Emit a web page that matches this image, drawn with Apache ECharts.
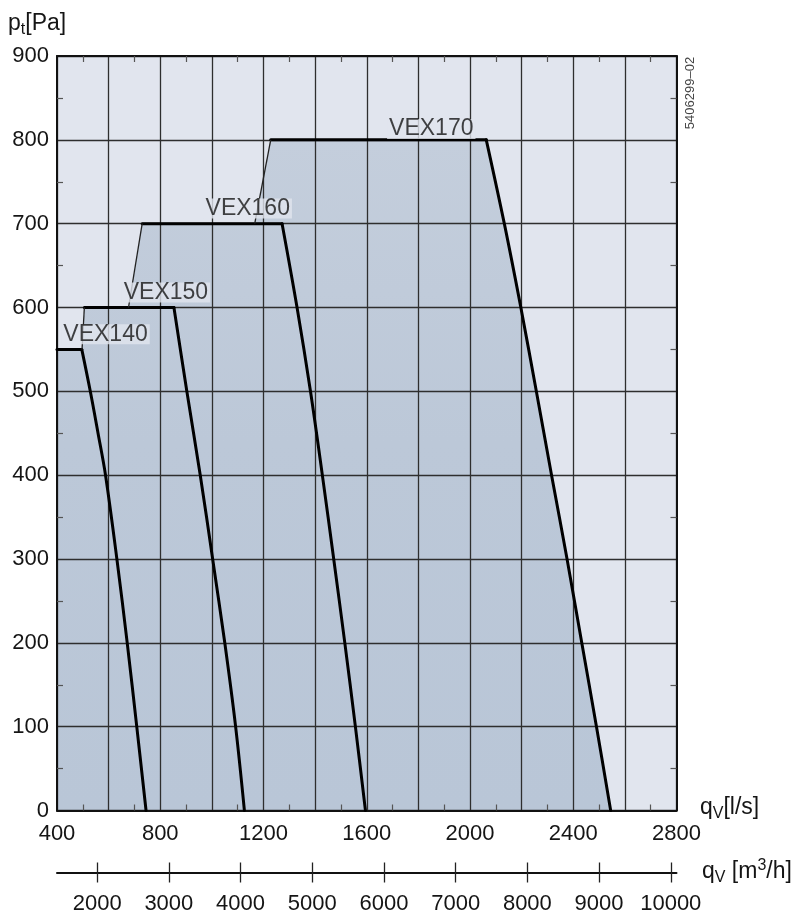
<!DOCTYPE html>
<html>
<head>
<meta charset="utf-8">
<script src="https://cdn.jsdelivr.net/npm/echarts@6/dist/echarts.min.js"></script>
<style>
html,body{margin:0;padding:0;background:#ffffff;}
#chart{width:804px;height:916px;}
</style>
</head>
<body>
<div id="chart"></div>
<script>
// ---- data (flow q in l/s, pressure p in Pa) ----
const flowLabelTicks = [400, 800, 1200, 1600, 2000, 2400, 2800];
const m3hTicks = [2000, 3000, 4000, 5000, 6000, 7000, 8000, 9000, 10000];
const seriesNames = ['VEX140', 'VEX150', 'VEX160', 'VEX170'];

const vex140 = [[400, 550], [496, 550], [529, 500], [559, 450], [588, 400], [632, 300], [672, 200], [709, 100], [745, 0]];
const vex150 = [[506, 600], [853, 600], [903, 500], [955, 400], [1003, 300], [1050, 200], [1092, 100], [1126, 0]];
const vex160 = [[730, 700], [1272, 700], [1330, 600], [1382, 500], [1428, 400], [1472, 300], [1515, 200], [1556, 100], [1595, 0]];
const vex170 = [[1228, 800], [2063, 800], [2133, 700], [2197, 600], [2257, 500], [2316, 400], [2376, 300], [2433, 200], [2490, 100], [2545, 0]];

// thin left-limit lines
const limit150 = [[497, 550], [506, 600]];
const limit160 = [[677, 600], [730, 700]];
const limit170 = [[1166, 700], [1228, 800]];

// label anchor points (q, p)
const labelPoints = [[588, 568], [822, 618], [1139, 718], [1850, 813]];

// envelope of the working area
const envelope = [vex140[0], vex140[1]]
  .concat(limit150, limit160, limit170, vex170.slice(1));

const FONT = '"Liberation Sans", Arial, Helvetica, sans-serif';
const TXT = '#151515';
const GRID = '#2e2e2e';

const chart = echarts.init(document.getElementById('chart'), null, {renderer: 'canvas'});

const lineStyleThick = {color: '#000', width: 3, join: 'round', cap: 'round'};
const curveParts = (data) => ([
  {type: 'line', data: data.slice(0, 2), symbol: 'none', silent: true, z: 4, lineStyle: lineStyleThick},
  {type: 'line', data: data.slice(1), symbol: 'none', silent: true, z: 4, smooth: 0.35, lineStyle: lineStyleThick}
]);
const thin = (data) => ({
  type: 'line', data: data, symbol: 'none', silent: true, z: 4,
  lineStyle: {color: '#222', width: 1.3}
});

const rich = {
  m: {fontSize: 23, lineHeight: 28, fontFamily: FONT, fill: TXT},
  s: {fontSize: 16, lineHeight: 11, verticalAlign: 'bottom', fontFamily: FONT, fill: TXT},
  p: {fontSize: 16, lineHeight: 20, verticalAlign: 'top', fontFamily: FONT, fill: TXT}
};

const option = {
  animation: false,
  backgroundColor: '#ffffff',
  grid: {
    left: 57, top: 56, width: 619.5, height: 754.5,
    show: true, backgroundColor: '#e1e5ee', borderWidth: 0,
    containLabel: false, outerBoundsMode: 'none'
  },
  xAxis: [
    {
      type: 'value', position: 'bottom', min: 400, max: 2800, interval: 200, z: 3,
      axisLine: {show: true, onZero: false, lineStyle: {color: '#111', width: 2}},
      axisTick: {show: false, inside: true},
      minorTick: {show: true, splitNumber: 2, length: 6, lineStyle: {color: '#555', width: 1.2}},
      splitLine: {show: true, lineStyle: {color: GRID, width: 1.3}},
      axisLabel: {
        margin: 12, fontSize: 22, color: TXT, fontFamily: FONT,
        formatter: (v) => flowLabelTicks.indexOf(v) >= 0 ? String(v) : ''
      }
    },
    {
      type: 'value', position: 'top', min: 400, max: 2800, interval: 200, z: 3,
      axisLine: {show: true, onZero: false, lineStyle: {color: '#111', width: 2}},
      axisTick: {show: false, inside: true},
      minorTick: {show: true, splitNumber: 2, length: 6, lineStyle: {color: '#555', width: 1.2}},
      splitLine: {show: false},
      axisLabel: {show: false}
    },
    {
      type: 'value', position: 'bottom', offset: 62, min: 1440, max: 10080, z: 3,
      axisLine: {show: true, onZero: false, lineStyle: {color: '#111', width: 2}},
      axisTick: {show: true, length: 10, customValues: m3hTicks, lineStyle: {color: '#222', width: 1.3}},
      splitLine: {show: false},
      axisLabel: {
        show: true, customValues: m3hTicks, margin: 20, fontSize: 22, color: TXT, fontFamily: FONT,
        formatter: (v) => String(v)
      }
    },
    {
      type: 'value', position: 'bottom', offset: 62, min: 1440, max: 10080, z: 3,
      axisLine: {show: false, onZero: false},
      axisTick: {show: true, inside: true, length: 10, customValues: m3hTicks, lineStyle: {color: '#222', width: 1.3}},
      splitLine: {show: false},
      axisLabel: {show: false}
    }
  ],
  yAxis: [
    {
      type: 'value', position: 'left', min: 0, max: 900, interval: 100, z: 3,
      axisLine: {show: true, onZero: false, lineStyle: {color: '#111', width: 2}},
      axisTick: {show: false, inside: true},
      minorTick: {show: true, splitNumber: 2, length: 6, lineStyle: {color: '#555', width: 1.2}},
      splitLine: {show: true, lineStyle: {color: GRID, width: 1.3}},
      axisLabel: {margin: 8, fontSize: 22, color: TXT, fontFamily: FONT}
    },
    {
      type: 'value', position: 'right', min: 0, max: 900, interval: 100, z: 3,
      axisLine: {show: true, onZero: false, lineStyle: {color: '#111', width: 2}},
      axisTick: {show: false, inside: true},
      minorTick: {show: true, splitNumber: 2, length: 6, lineStyle: {color: '#555', width: 1.2}},
      splitLine: {show: false},
      axisLabel: {show: false}
    }
  ],
  series: [
    {
      type: 'line', data: envelope, symbol: 'none', silent: true, z: 2,
      lineStyle: {width: 0, opacity: 0},
      areaStyle: {
        opacity: 1,
        color: new echarts.graphic.LinearGradient(0, 0, 0, 1, [
          {offset: 0, color: '#c4cedc'},
          {offset: 0.45, color: '#bcc8d8'},
          {offset: 1, color: '#b9c6d7'}
        ])
      }
    }
  ].concat(
    curveParts(vex140), curveParts(vex150), curveParts(vex160), curveParts(vex170),
    [thin(limit150), thin(limit160), thin(limit170),
    {
      type: 'scatter', z: 6, silent: true, symbolSize: 1,
      itemStyle: {color: 'rgba(0,0,0,0)'},
      data: labelPoints,
      label: {
        show: true, position: 'inside',
        formatter: (p) => seriesNames[p.dataIndex],
        fontSize: 23, lineHeight: 20, color: TXT, fontFamily: FONT,
        backgroundColor: '#e1e5ee', padding: [0, 2, 0, 2]
      }
    }]
  ),
  graphic: [
    {
      type: 'text', left: 8, top: 12, z: 10,
      style: {text: '{m|p}{s|t}{m|[Pa]}', rich: rich}
    },
    {
      type: 'text', left: 700, top: 796, z: 10,
      style: {text: '{m|q}{s|V}{m|[l/s]}', rich: rich}
    },
    {
      type: 'text', left: 702, top: 858, z: 10,
      style: {text: '{m|q}{s|V}{m| [m}{p|3}{m|/h]}', rich: rich}
    },
    {
      type: 'text', x: 690.5, y: 93, rotation: Math.PI / 2, z: 10,
      style: {
        text: '5406299–02', fontSize: 13, fontFamily: FONT, fill: '#444',
        align: 'center', verticalAlign: 'middle', textAlign: 'center', textVerticalAlign: 'middle'
      }
    }
  ]
};
chart.setOption(option);
</script>
</body>
</html>
